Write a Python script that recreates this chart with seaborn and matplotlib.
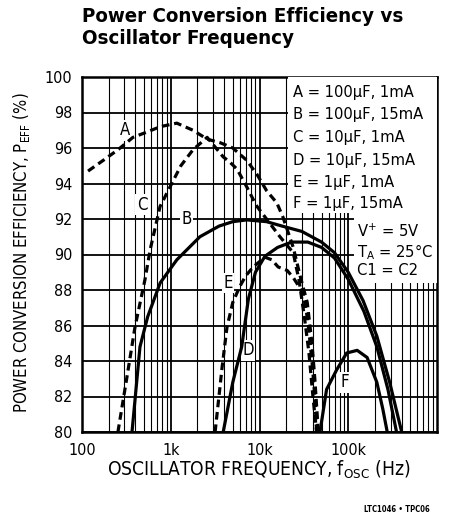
import seaborn as sns
import matplotlib.pyplot as plt
from matplotlib.patches import Rectangle
from matplotlib.ticker import LogLocator, NullFormatter

# curves: frequency (Hz) and efficiency (%)
freq_a = [117, 173, 254, 375, 540, 760, 1170, 1780, 2570, 3600, 5000, 7200, 9400,
          12000, 15700, 18400, 24000, 29000, 34500, 39000, 42000, 46000]
eff_a = [94.7, 95.3, 95.9, 96.6, 96.9, 97.2, 97.4, 97.0, 96.5, 96.3, 96.0, 95.3, 94.5,
         93.6, 92.9, 92.1, 90.4, 88.7, 87.3, 85.0, 83.0, 80.0]

freq_b = [366, 450, 550, 760, 1170, 2130, 3500, 5000, 7200, 12000, 18000, 30000,
          50000, 70000, 100000, 147000, 210000, 293000, 400000]
eff_b = [80.0, 84.8, 86.5, 88.4, 89.7, 91.0, 91.6, 91.85, 91.95, 91.85, 91.6, 91.3,
         90.7, 90.1, 89.0, 87.4, 85.4, 82.8, 80.0]

freq_c = [254, 321, 395, 513, 585, 757, 980, 1300, 1780, 2570, 3900, 4650, 5600, 7200,
          8500, 9400, 17000, 24000, 28000, 32000, 36000, 40000, 44000]
eff_c = [80.0, 83.1, 85.9, 88.6, 90.25, 92.7, 93.8, 95.0, 95.9, 96.6, 95.5, 95.2, 94.8,
         93.8, 93.1, 92.7, 91.0, 90.1, 88.5, 86.5, 84.5, 82.0, 80.0]

freq_d = [3900, 5000, 6300, 7500, 9000, 11500, 16000, 23000, 35000, 50000, 70000,
          100000, 150000, 210000, 280000, 350000]
eff_d = [80.0, 82.8, 84.8, 87.5, 89.0, 89.9, 90.4, 90.7, 90.7, 90.4, 89.8,
         88.6, 86.8, 84.8, 82.4, 80.0]

freq_e = [3160, 3800, 4300, 5000, 6000, 7000, 8500, 11500, 13800, 16200, 20500, 24000,
          27000, 31000, 35000, 39000, 42000, 44000]
eff_e = [80.0, 83.7, 85.9, 87.3, 88.2, 88.8, 89.3, 89.85, 89.7, 89.3, 89.1, 88.7,
         88.3, 87.8, 86.3, 84.0, 82.0, 80.0]

freq_f = [48000, 57000, 74000, 96000, 126000, 163000, 210000, 245000, 275000]
eff_f = [80.0, 82.4, 83.5, 84.45, 84.6, 84.2, 82.8, 81.3, 80.0]

curve_names = ["A", "B", "C", "D", "E", "F"]
curve_desc = ["100µF, 1mA", "100µF, 15mA", "10µF, 1mA", "10µF, 15mA", "1µF, 1mA", "1µF, 15mA"]
label_freq = [305, 1520, 475, 7400, 4450, 92000]
label_eff = [97.0, 92.0, 92.8, 84.6, 88.4, 82.8]

x_ticks = [100, 1000, 10000, 100000]
x_tick_labels = ["100", "1k", "10k", "100k"]
y_ticks = list(range(80, 101, 2))

sns.set_style("white")
plt.rcParams["font.family"] = ["DejaVu Sans"]
plt.rcParams["font.stretch"] = "condensed"
plt.rcParams["mathtext.fontset"] = "custom"
plt.rcParams["mathtext.rm"] = "DejaVu Sans:stretch=condensed"
plt.rcParams["mathtext.it"] = "DejaVu Sans:stretch=condensed"
plt.rcParams["mathtext.bf"] = "DejaVu Sans:stretch=condensed:weight=bold"
for key in ["text.color", "axes.labelcolor", "xtick.color", "ytick.color"]:
    plt.rcParams[key] = "black"

fig = plt.figure(figsize=(4.51, 5.14), dpi=100)
ax = fig.add_axes([82 / 451, 1 - 432 / 514, 355 / 451, 355 / 514])

curves = [(freq_a, eff_a), (freq_b, eff_b), (freq_c, eff_c),
          (freq_d, eff_d), (freq_e, eff_e), (freq_f, eff_f)]
dashed = {"A", "C", "E"}
for name, (fx, ey) in zip(curve_names, curves):
    ls = (0, (2.4, 1.5)) if name in dashed else "-"
    sns.lineplot(x=fx, y=ey, ax=ax, color="black", lw=2.3, linestyle=ls,
                 sort=False, estimator=None, zorder=5)

ax.set_xscale("log")
ax.set_xlim(100, 1e6)
ax.set_ylim(80, 100)
ax.set_xticks(x_ticks)
ax.set_xticklabels(x_tick_labels)
ax.xaxis.set_minor_locator(LogLocator(base=10, subs=range(2, 10)))
ax.xaxis.set_minor_formatter(NullFormatter())
ax.set_yticks(y_ticks)
ax.set_yticklabels([str(v) for v in y_ticks])
ax.tick_params(which="both", length=0)
ax.tick_params(axis="x", pad=8, labelsize=11.5)
ax.tick_params(axis="y", pad=7, labelsize=11.5)
ax.grid(which="major", color="black", lw=1.3)
ax.grid(which="minor", axis="x", color="black", lw=0.8)
ax.set_axisbelow(True)
for sp in ax.spines.values():
    sp.set_color("black")
    sp.set_linewidth(1.8)
ax.set_xlabel("")
ax.set_ylabel("")

# white boxes holding the notes
ax.add_patch(Rectangle((0.58, 0.617), 0.42, 0.383, transform=ax.transAxes,
                       facecolor="white", edgecolor="none", zorder=3))
ax.add_patch(Rectangle((0.765, 0.42), 0.235, 0.2, transform=ax.transAxes,
                       facecolor="white", edgecolor="none", zorder=3))

note_y = [0.955, 0.893, 0.830, 0.766, 0.704, 0.645]
for name, desc, yy in zip(curve_names, curve_desc, note_y):
    ax.text(0.594, yy, f"{name} = {desc}", transform=ax.transAxes, fontsize=11.8,
            va="center", ha="left", zorder=6)
notes = ["V$^{\\mathregular{+}}$ = 5V", "T$_{\\mathregular{A}}$ = 25°C", "C1 = C2"]
for txt, yy in zip(notes, [0.565, 0.508, 0.455]):
    ax.text(0.775, yy, txt, transform=ax.transAxes, fontsize=11.8,
            va="center", ha="left", zorder=6)

for name, lx, ly in zip(curve_names, label_freq, label_eff):
    ax.text(lx, ly, name, fontsize=12, ha="center", va="center", zorder=4,
            bbox=dict(facecolor="white", edgecolor="none", pad=1))

fig.text(82 / 451, 1 - 7 / 514, "Power Conversion Efficiency vs\nOscillator Frequency",
         ha="left", va="top", fontsize=14.7, fontweight="bold", linespacing=1.2)
fig.text(22 / 451, 1 - 253 / 514, "POWER CONVERSION EFFICIENCY, P$_{\\mathregular{EFF}}$ (%)",
         rotation=90, ha="center", va="center", fontsize=12)
fig.text(259 / 451, 1 - 470 / 514, "OSCILLATOR FREQUENCY, f$_{\\mathregular{OSC}}$ (Hz)",
         ha="center", va="center", fontsize=13.8)
fig.text(430 / 451, 1 - 509 / 514, "LTC1046 • TPC06", ha="right", va="center",
         fontsize=5.5, fontweight="bold")

fig.savefig("out.png", dpi=100)
